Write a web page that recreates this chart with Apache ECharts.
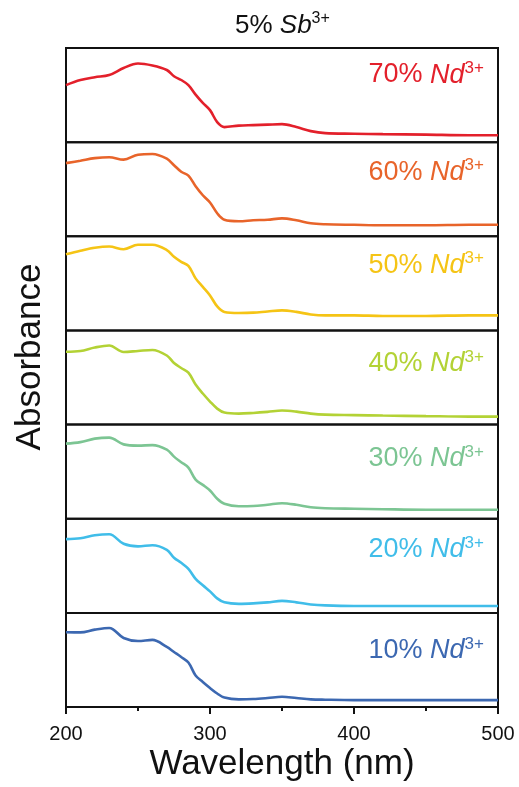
<!DOCTYPE html>
<html>
<head>
<meta charset="utf-8">
<script src="https://cdn.jsdelivr.net/npm/echarts@6.0.0/dist/echarts.min.js"></script>
<style>
  html, body { margin: 0; padding: 0; background: #fff; }
  #chart { width: 519px; height: 787px; }
</style>
</head>
<body>
<div id="chart"></div>
<script>
// wavelength (nm) sample points
const wavelengths = [200, 210, 220, 230, 240, 250, 260, 270, 275, 280, 285, 290, 295, 300, 305, 310,
  320, 330, 340, 350, 360, 370, 380, 400, 420, 450, 480, 500];

// absorbance, normalised to each panel (0 = panel bottom, 1 = panel top)
const nd70 = [0.606, 0.66, 0.69, 0.713, 0.787, 0.835, 0.814, 0.766, 0.70, 0.66, 0.606, 0.505, 0.417, 0.34, 0.213, 0.16,
  0.176, 0.181, 0.186, 0.191, 0.16, 0.117, 0.096, 0.09, 0.085, 0.08, 0.074, 0.074];
const nd60 = [0.777, 0.803, 0.83, 0.84, 0.814, 0.867, 0.874, 0.824, 0.755, 0.686, 0.644, 0.532, 0.436, 0.359, 0.245, 0.176,
  0.16, 0.17, 0.176, 0.19, 0.17, 0.138, 0.128, 0.122, 0.117, 0.117, 0.122, 0.122];
const nd50 = [0.809, 0.846, 0.878, 0.891, 0.862, 0.91, 0.91, 0.854, 0.782, 0.729, 0.686, 0.553, 0.463, 0.372, 0.255, 0.197,
  0.186, 0.189, 0.202, 0.213, 0.197, 0.17, 0.16, 0.16, 0.154, 0.154, 0.16, 0.16];
const nd40 = [0.773, 0.782, 0.819, 0.84, 0.771, 0.782, 0.793, 0.734, 0.654, 0.601, 0.553, 0.426, 0.33, 0.245, 0.17, 0.128,
  0.117, 0.124, 0.135, 0.149, 0.138, 0.117, 0.106, 0.101, 0.096, 0.09, 0.085, 0.085];
const nd30 = [0.798, 0.814, 0.851, 0.862, 0.79, 0.777, 0.782, 0.734, 0.66, 0.601, 0.543, 0.415, 0.36, 0.30, 0.213, 0.16,
  0.133, 0.135, 0.149, 0.165, 0.149, 0.122, 0.112, 0.106, 0.101, 0.096, 0.096, 0.096];
const nd20 = [0.784, 0.793, 0.824, 0.835, 0.734, 0.707, 0.718, 0.67, 0.585, 0.532, 0.468, 0.362, 0.293, 0.229, 0.154, 0.112,
  0.096, 0.101, 0.112, 0.128, 0.112, 0.09, 0.08, 0.074, 0.074, 0.074, 0.074, 0.074];
const nd10 = [0.795, 0.793, 0.822, 0.84, 0.734, 0.702, 0.713, 0.638, 0.585, 0.532, 0.473, 0.335, 0.266, 0.202, 0.144, 0.101,
  0.082, 0.085, 0.096, 0.11, 0.096, 0.082, 0.078, 0.074, 0.074, 0.074, 0.074, 0.074];

const panelNames = ["70%", "60%", "50%", "40%", "30%", "20%", "10%"];
const panelData = [nd70, nd60, nd50, nd40, nd30, nd20, nd10];
const xTicks = [200, 300, 400, 500];

const colors = ["#e3202b", "#e8642a", "#f5c415", "#b3d235", "#7cc593", "#40bde9", "#3c68b1"];
const labelOffsets = [27, 30, 29, 33, 34, 31, 38];

const FONT = "'Liberation Sans', Arial, Helvetica, sans-serif";
const PANEL_TOP = 48;
const PANEL_H = 94.15;
const PLOT_LEFT = 66;
const PLOT_W = 432;

const chart = echarts.init(document.getElementById("chart"), null, { renderer: "canvas" });

function supRich(color, size) {
  return {
    n: { fontSize: size, lineHeight: 30, color: color, fontWeight: "normal", fontFamily: FONT },
    i: { fontSize: size, lineHeight: 30, color: color, fontWeight: "normal", fontStyle: "italic", fontFamily: FONT },
    s: { fontSize: Math.round(size * 0.63), lineHeight: 16, color: color, fontWeight: "normal", verticalAlign: "top", fontFamily: FONT }
  };
}

const grids = [];
const xAxes = [];
const yAxes = [];
const series = [];
const titles = [];

panelNames.forEach((name, i) => {
  const top = PANEL_TOP + i * PANEL_H;
  const isLast = i === panelNames.length - 1;

  grids.push({
    left: PLOT_LEFT,
    top: top,
    width: PLOT_W,
    height: PANEL_H,
    show: true,
    borderColor: "#111",
    borderWidth: 2,
    backgroundColor: "transparent"
  });

  xAxes.push({
    gridIndex: i,
    type: "value",
    min: xTicks[0],
    max: xTicks[xTicks.length - 1],
    interval: 100,
    show: isLast,
    axisLine: { show: true, lineStyle: { color: "#111", width: 2 } },
    axisTick: { show: true, length: 7, lineStyle: { color: "#111", width: 2 } },
    minorTick: { show: true, splitNumber: 2, length: 4, lineStyle: { color: "#111", width: 2 } },
    splitLine: { show: false },
    axisLabel: {
      show: true,
      margin: 17,
      fontSize: 20,
      color: "#111",
      fontFamily: FONT
    },
    name: isLast ? "Wavelength (nm)" : "",
    nameLocation: "middle",
    nameGap: 40,
    nameTextStyle: { fontSize: 35, color: "#111", fontFamily: FONT }
  });

  yAxes.push({
    gridIndex: i,
    type: "value",
    min: 0,
    max: 1,
    show: false
  });

  series.push({
    name: name,
    type: "line",
    xAxisIndex: i,
    yAxisIndex: i,
    data: wavelengths.map((w, k) => [w, panelData[i][k]]),
    smooth: 0.35,
    showSymbol: false,
    lineStyle: { color: colors[i], width: 2.6 },
    silent: true
  });

  titles.push({
    text: `{n|${name} }{i|Nd}{s|3+}`,
    right: 35,
    top: top + labelOffsets[i] - 15,
    padding: 0,
    textStyle: { fontWeight: "normal", rich: supRich(colors[i], 27) }
  });
});

titles.push({
  text: "{n|5% }{i|Sb}{s|3+}",
  left: 235,
  top: 11,
  padding: 0,
  textStyle: { fontWeight: "normal", rich: supRich("#111", 26) }
});

chart.setOption({
  animation: false,
  backgroundColor: "#fff",
  title: titles,
  grid: grids,
  xAxis: xAxes,
  yAxis: yAxes,
  series: series,
  graphic: [
    {
      type: "text",
      x: 30,
      y: 357,
      rotation: Math.PI / 2,
      style: {
        text: "Absorbance",
        fontSize: 35,
        fontFamily: FONT,
        fill: "#111",
        align: "center",
        verticalAlign: "middle"
      }
    }
  ]
});

window.addEventListener("resize", () => chart.resize());
</script>
</body>
</html>
